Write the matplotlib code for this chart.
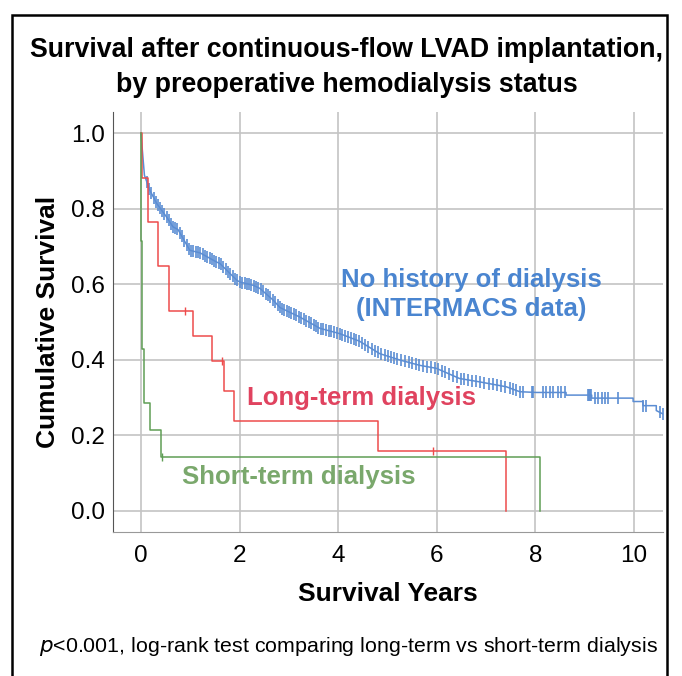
import numpy as np
from matplotlib import pyplot as plt
from matplotlib.patches import Rectangle

plt.rcParams['font.family'] = ['Liberation Sans', 'DejaVu Sans']

# no history of dialysis (INTERMACS)
blue_t = [0, 0.07, 0.18, 0.32, 0.52, 0.65, 0.75, 0.99, 1.2, 1.53, 1.6, 1.94, 2.0, 2.28, 2.41,
          2.68, 2.82, 3.22, 3.63, 4.03, 4.43, 4.84, 5.25, 5.65, 5.99, 6.46, 6.87, 7.41, 7.68,
          8.02, 8.62, 8.62, 9.14, 9.14, 9.98, 9.98, 10.18, 10.18, 10.45, 10.45, 10.6]
blue_s = [1.0, 0.889, 0.849, 0.814, 0.778, 0.752, 0.745, 0.69, 0.683, 0.659, 0.655, 0.611, 0.606,
          0.597, 0.589, 0.558, 0.538, 0.513, 0.483, 0.469, 0.449, 0.416, 0.399, 0.385, 0.377,
          0.35, 0.341, 0.328, 0.315, 0.313, 0.313, 0.306, 0.306, 0.298, 0.298, 0.289, 0.289,
          0.278, 0.278, 0.265, 0.255]
blue_censor = [0.12, 0.17, 0.21, 0.26, 0.3, 0.34, 0.39, 0.43, 0.47, 0.52, 0.56, 0.61, 0.65, 0.7,
               0.74, 0.79, 0.83, 0.88, 0.93, 0.97, 1.02, 1.06, 1.11, 1.16, 1.2, 1.25, 1.3, 1.34,
               1.39, 1.44, 1.48, 1.53, 1.58, 1.62, 1.67, 1.72, 1.77, 1.81, 1.86, 1.91, 1.95, 2.0,
               2.05, 2.1, 2.15, 2.19, 2.24, 2.29, 2.34, 2.38, 2.43, 2.48, 2.53, 2.57, 2.62, 2.67,
               2.72, 2.77, 2.81, 2.86, 2.91, 2.96, 3.01, 3.05, 3.1, 3.15, 3.2, 3.25, 3.3, 3.35,
               3.4, 3.45, 3.5, 3.55, 3.6, 3.65, 3.7, 3.76, 3.81, 3.86, 3.92, 3.97, 4.03, 4.08,
               4.14, 4.2, 4.25, 4.31, 4.37, 4.43, 4.49, 4.55, 4.61, 4.68, 4.74, 4.8, 4.87, 4.94,
               5.0, 5.07, 5.14, 5.2, 5.28, 5.35, 5.43, 5.5, 5.57, 5.64, 5.72, 5.8, 5.88, 5.96,
               6.03, 6.1, 6.17, 6.25, 6.33, 6.4, 6.48, 6.56, 6.63, 6.72, 6.8, 6.88, 6.96, 7.05,
               7.14, 7.22, 7.31, 7.38, 7.48, 7.55, 7.61, 7.68, 7.75, 7.92, 7.95, 8.15, 8.22,
               8.29, 8.35, 8.46, 8.52, 8.59, 9.06, 9.08, 9.1, 9.13, 9.2, 9.27, 9.34, 9.4, 9.47,
               9.67, 10.18, 10.25, 10.52, 10.58]

# long-term dialysis
red_t = [0, 0.03, 0.14, 0.35, 0.57, 1.05, 1.44, 1.68, 1.88, 4.81, 7.41]
red_s = [1.0, 0.882, 0.765, 0.647, 0.529, 0.463, 0.397, 0.318, 0.238, 0.159, 0.0]
red_censor = [0.89, 1.65, 5.92]

# short-term dialysis
green_t = [0, 0.005, 0.01, 0.03, 0.07, 0.18, 0.41, 8.09]
green_s = [1.0, 0.786, 0.714, 0.429, 0.286, 0.214, 0.143, 0.0]
green_censor = [0.43]

BLUE = '#5b8dd3'
RED = '#ee4b4b'
GREEN = '#5f9e55'


def km_value(t, times, surv):
    i = np.searchsorted(times, t, side='right') - 1
    return np.asarray(surv)[i]


fig = plt.figure(figsize=(6.82, 6.76), dpi=100)
ax = fig.add_axes([0.1657, 0.213, 0.806, 0.621])

ax.plot(blue_t, blue_s, color=BLUE, lw=1.1, zorder=3)
ax.plot(blue_censor, np.interp(blue_censor, blue_t, blue_s), ls='none', marker='|',
        ms=8, mew=1.2, color=BLUE, zorder=3)

ax.step(red_t, red_s, where='post', color=RED, lw=1.1, zorder=4)
ax.plot(red_censor, km_value(red_censor, red_t, red_s), ls='none', marker='|',
        ms=6, mew=1.0, color=RED, zorder=4)

ax.step(green_t, green_s, where='post', color=GREEN, lw=1.1, zorder=4)
ax.plot(green_censor, km_value(green_censor, green_t, green_s), ls='none', marker='|',
        ms=6, mew=1.0, color=GREEN, zorder=4)

ax.set_xlim(-0.567, 10.58)
ax.set_ylim(-0.057, 1.056)
ax.set_xticks(range(0, 11, 2))
ax.set_yticks([0, 0.2, 0.4, 0.6, 0.8, 1.0])
ax.set_yticklabels(['0.0', '0.2', '0.4', '0.6', '0.8', '1.0'])
ax.grid(True, color='#c4c4c4', lw=1.2)
ax.set_axisbelow(True)
for s in ['top', 'right']:
    ax.spines[s].set_visible(False)
ax.spines['left'].set_color('#555555')
ax.spines['bottom'].set_color('#999999')
ax.tick_params(length=0, labelsize=17.5)
ax.tick_params(axis='y', pad=6)
ax.tick_params(axis='x', pad=9)

ax.set_xlabel('Survival Years', fontsize=19, fontweight='bold', labelpad=11)
ax.set_ylabel('Cumulative Survival', fontsize=19, fontweight='bold', labelpad=8)

ax.text(6.7, 0.572, 'No history of dialysis\n(INTERMACS data)', color='#4a85d0',
        fontsize=18.5, fontweight='bold', ha='center', va='center', linespacing=1.25)
ax.text(4.48, 0.298, 'Long-term dialysis', color='#e0435f', fontsize=18.5,
        fontweight='bold', ha='center', va='center')
ax.text(3.2, 0.088, 'Short-term dialysis', color='#7aa86c', fontsize=18.5,
        fontweight='bold', ha='center', va='center')

fig.text(0.508, 0.9, 'Survival after continuous-flow LVAD implantation,\nby preoperative hemodialysis status',
         ha='center', va='center', fontsize=19.3, fontweight='bold', linespacing=1.45)
fig.text(0.511, 0.044, r'$\it{p}$<0.001, log-rank test comparing long-term vs short-term dialysis',
         ha='center', va='center', fontsize=15.4)

fig.patches.append(Rectangle((12 / 682, -0.05), 655 / 682, 1.05 - 15 / 676,
                             transform=fig.transFigure, fill=False, ec='black', lw=1.8))

fig.savefig('out.png', dpi=100)
